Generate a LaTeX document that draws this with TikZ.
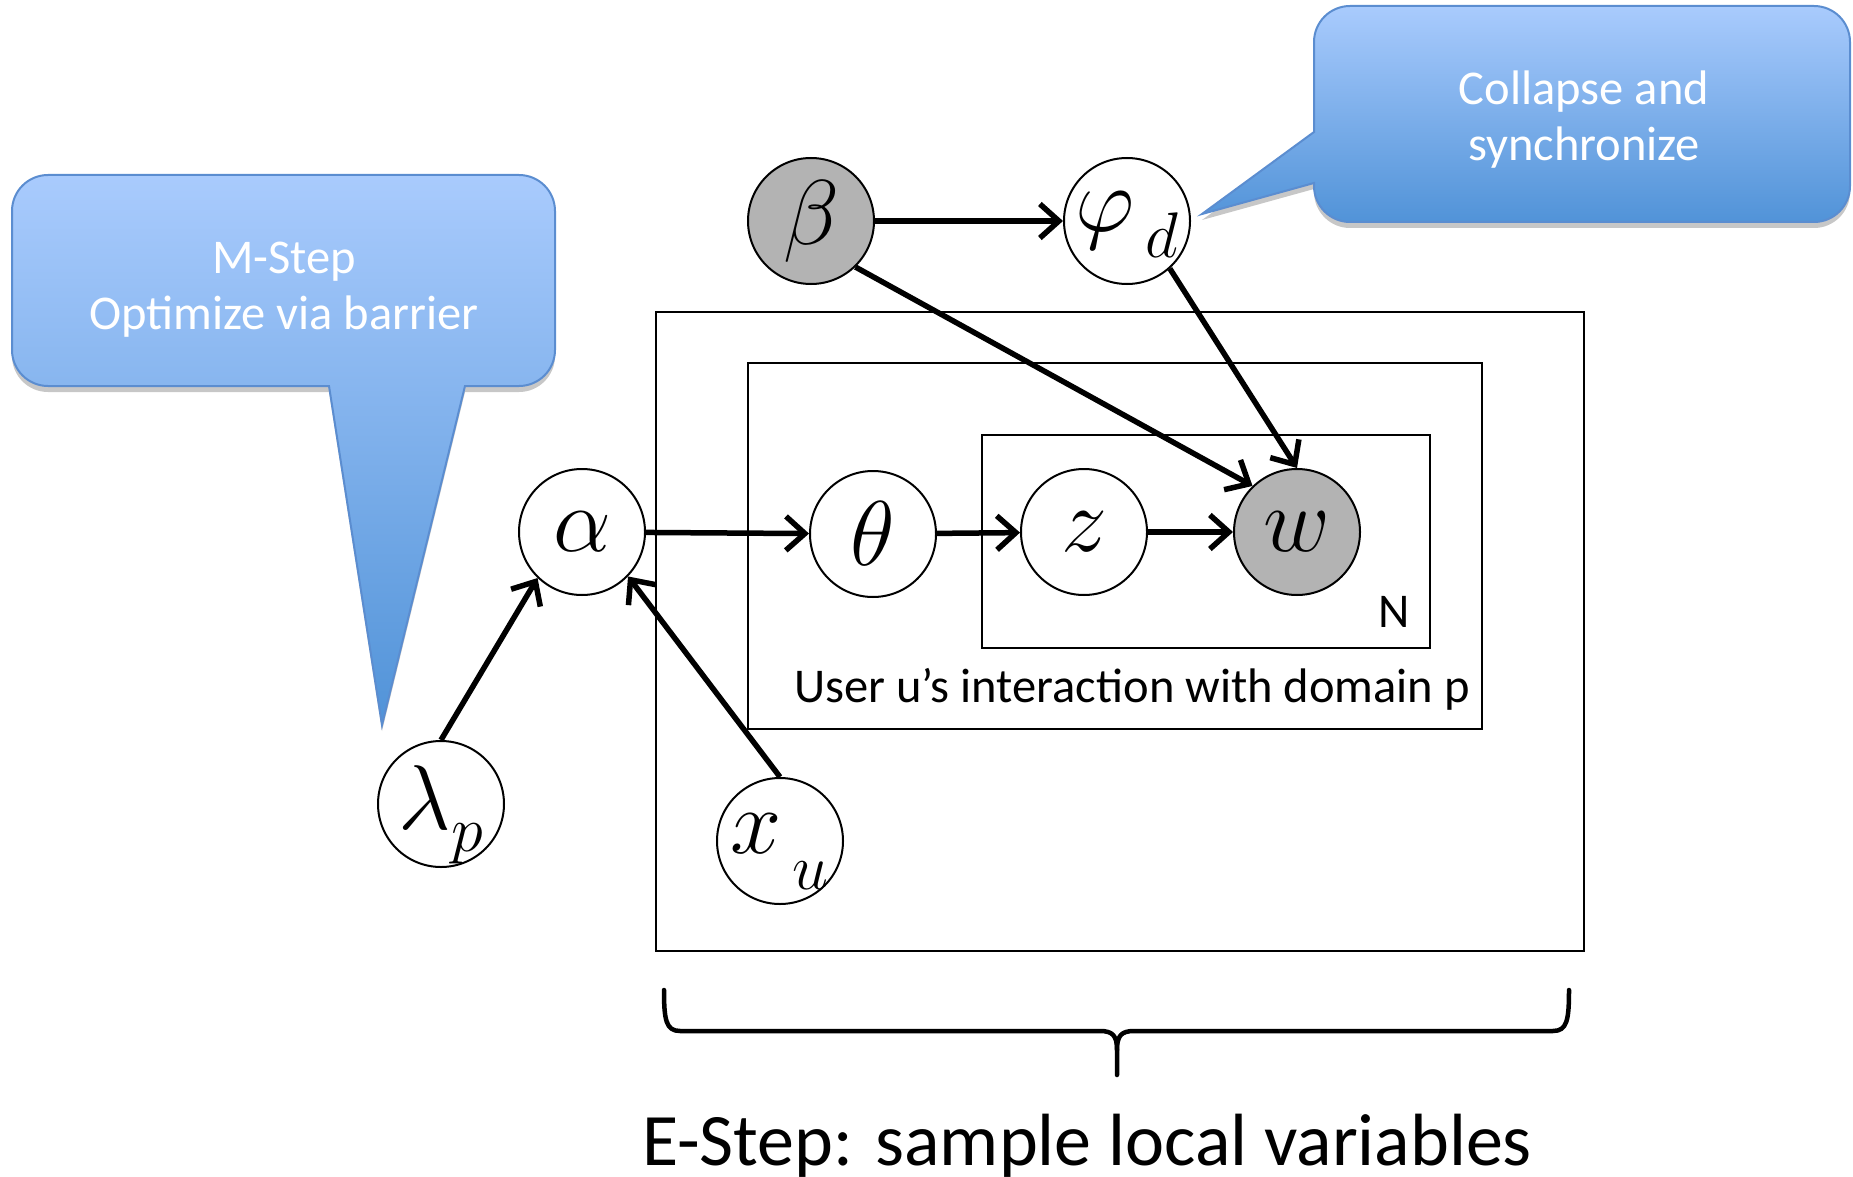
\RequirePackage{fix-cm}
\documentclass[tikz,border=0pt]{standalone}
\usepackage{fontspec}
\setmainfont{Carlito}
\usetikzlibrary{arrows.meta}
\definecolor{cbTop}{HTML}{A9CBFD}
\definecolor{cbBot}{HTML}{5193D8}
\definecolor{cbLine}{HTML}{5B8DD0}
\definecolor{obsgray}{HTML}{B3B3B3}
\newcommand{\lowsub}[2]{\smash{\raisebox{#1}{$\scriptstyle #2$}}}
\begin{document}
\begin{tikzpicture}[x=1pt,y=-1pt,
  var/.style={circle,draw,fill=white,line width=2pt,minimum size=126pt,inner sep=0pt,font=\fontsize{92}{92}\selectfont},
  obs/.style={var,fill=obsgray},
  edge/.style={line width=5.5pt,-{Straight Barb[length=19pt,width=34pt]}},
  plate/.style={draw,line width=2pt},
  callout/.style={draw=cbLine,line width=2pt,top color=cbTop,bottom color=cbBot,
    preaction={fill=black,opacity=0.22,transform canvas={yshift=-6pt}}},
  ctext/.style={text=white,align=center,font=\fontsize{48.5}{56}\selectfont},
  ptext/.style={font=\fontsize{48.5}{56}\selectfont},
]
\useasboundingbox (0,0) rectangle (1853,1177);

% callouts
\path[callout] (12,280) [rounded corners=36] -- (12,175) -- (555,175) -- (555,386)
  [sharp corners] -- (465,386) -- (382,725) -- (329,386)
  [rounded corners=36] -- (12,386) -- cycle;
\node[ctext] (mstep) at (284,290) {M-Step\\Optimize via barrier};

\path[callout] (1600,6) [rounded corners=36] -- (1850,6) -- (1850,222) -- (1314,222)
  [sharp corners] -- (1314,183) -- (1202,214) -- (1314,132)
  [rounded corners=36] -- (1314,6) -- cycle;
\node[ctext] (collapse) at (1584,120) {Collapse and\\synchronize};

% plates
\draw[plate] (656,312) rectangle (1584,951);
\draw[plate] (748,363) rectangle (1482,729);
\draw[plate] (982,435) rectangle (1430,648);
\node[ptext] (nlabel) at (1394,612) {N};
\node[ptext] (plabel) at (1132,689) {User u’s interaction with domain p};

% nodes
\node[obs] (beta) at (811,221) {$\beta$};
\node[var] (phi) at (1127,221) {$\varphi_{\,\lowsub{-12pt}{d}}$};
\node[var] (alpha) at (582,532) {$\alpha$};
\node[var] (theta) at (873,534) {$\theta$};
\node[var] (z) at (1084,532) {$z$};
\node[obs] (w) at (1297,532) {$w$};
\node[var] (lambda) at (441,804) {$\lambda_{\lowsub{-9pt}{p}}$};
\node[var] (xu) at (780,841) {$x_{\,\lowsub{-22pt}{u}}$};

% edges
\draw[edge] (beta) -- (phi);
\draw[edge] (beta.-46) -- (w.134);
\draw[edge] (phi.-48) -- (w.north);
\draw[edge] (alpha) -- (theta);
\draw[edge] (theta) -- (z);
\draw[edge] (z) -- (w);
\draw[edge] (lambda.north) -- (alpha.-134);
\draw[edge] (xu.north) -- (alpha.-44);

% brace
\draw[line width=4.5pt,line cap=round,line join=round]
  (664,990) .. controls (664,1020) and (666,1031) .. (680,1031) -- (1100,1031)
  .. controls (1113,1031) and (1117,1036) .. (1117,1050) -- (1117,1075);
\draw[line width=4.5pt,line cap=round,line join=round]
  (1569,990) .. controls (1569,1020) and (1567,1031) .. (1553,1031) -- (1134,1031)
  .. controls (1121,1031) and (1117,1036) .. (1117,1050);
\node[font=\fontsize{74}{80}\selectfont] (estep) at (1087,1146) {E-Step: sample local variables};
\end{tikzpicture}
\end{document}
